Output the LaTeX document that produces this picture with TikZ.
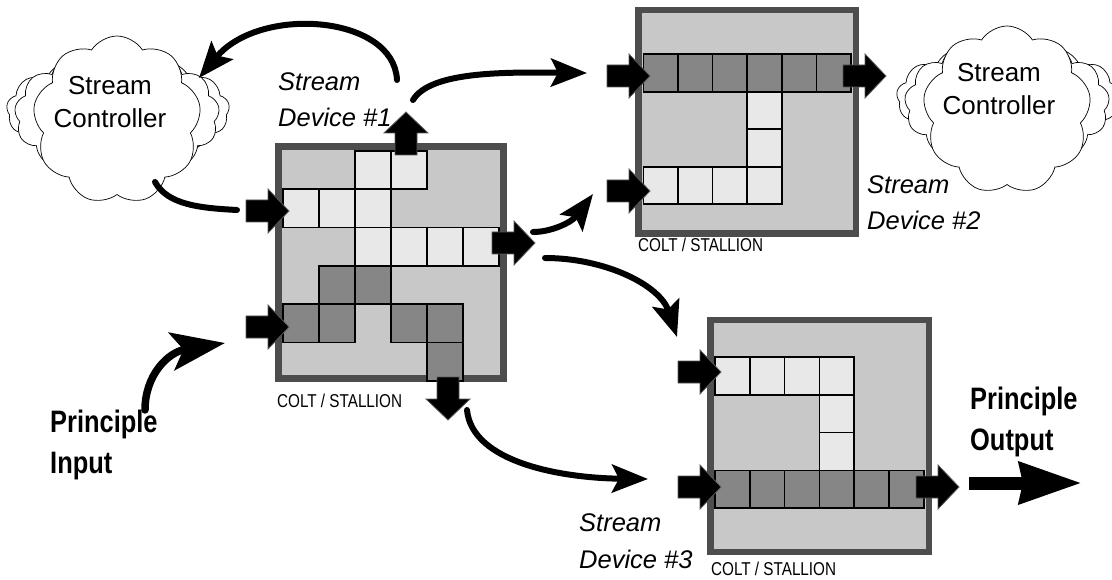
\documentclass[tikz,border=0pt]{standalone}
\usepackage{fontspec}
\setmainfont{Liberation Sans}
\newfontfamily\narrowfont[FakeStretch=0.82]{Liberation Sans}
\usetikzlibrary{shapes.symbols,arrows.meta}
\definecolor{framegray}{HTML}{4D4D4D}
\definecolor{innergray}{HTML}{C8C8C8}
\definecolor{litecell}{HTML}{E8E8E8}
\definecolor{darkcell}{HTML}{868686}
\definecolor{arrowedge}{HTML}{5A5A5A}
\begin{document}
\begin{tikzpicture}[x=1pt,y=-1pt,
  blockframe/.style={draw=framegray, fill=innergray, inner sep=0pt, outer sep=0pt, anchor=north west},
  cellbox/.style={draw=black, line width=1.6pt, inner sep=0pt, outer sep=0pt, anchor=north west},
  cloudback/.style={cloud, cloud puffs=13, cloud puff arc=120, cloud ignores aspect, draw=black, line width=0.7pt, fill=white, inner sep=0pt},
  cloudfront/.style={cloud, cloud puffs=9, cloud puff arc=115, cloud ignores aspect, draw=black, line width=0.7pt, fill=white, inner sep=0pt},
  cloudtext/.style={font=\fontsize{26}{33.5}\selectfont, align=center, inner sep=0pt, anchor=base},
  devlabel/.style={font=\fontsize{25.5}{36.7}\selectfont\itshape, align=left, inner sep=0pt, anchor=base west},
  mainlabel/.style={font=\fontsize{31}{41}\selectfont\narrowfont\bfseries, align=left, inner sep=0pt, anchor=base west},
  colt/.style={font=\fontsize{18.6}{20}\selectfont\narrowfont, inner sep=0pt, anchor=base west},
  conn/.style={line width=6pt, line cap=round, -{Stealth[length=36pt, width=28pt, inset=7pt]}},
  fatarrow/.pic={\path[fill=black, draw=arrowedge, line width=0.8pt, line join=miter]
     (0,0) -- (-21,-22) -- (-21,-11) -- (-43,-11) -- (-43,11) -- (-21,11) -- (-21,22) -- cycle;}
]
\useasboundingbox[fill=white] (0,0) rectangle (1112,580);

% ---------------- left cloud
\node[cloudback, minimum width=223pt, minimum height=108pt] (lcb1) at (118,110) {};
\node[cloudback, minimum width=205pt, minimum height=132pt] (lcb2) at (117,115) {};
\node[cloudfront, minimum width=168pt, minimum height=168pt] (lc) at (117,120) {};
\node[cloudtext] (lct) at (110,128) {Stream\\Controller};

% ---------------- right cloud
\node[cloudback, minimum width=223pt, minimum height=108pt] (rcb1) at (1008,97) {};
\node[cloudback, minimum width=205pt, minimum height=132pt] (rcb2) at (1007,104) {};
\node[cloudfront, minimum width=168pt, minimum height=168pt] (rc) at (1007,110) {};
\node[cloudtext] (rct) at (999,115) {Stream\\Controller};

% ---------------- block 1 (centre)
\node[blockframe, line width=7pt, minimum width=225pt, minimum height=232pt] (blk1) at (278.5,146.5) {};
\foreach \c/\r in {2/0,3/0,0/1,1/1,2/1,2/2,3/2,4/2,5/2}
  \node[cellbox, fill=litecell, minimum width=36pt, minimum height=38.3pt] (b1l-\c-\r) at ({283+\c*36},{151+\r*38.3}) {};
\foreach \c/\r in {1/3,2/3,0/4,1/4,3/4,4/4,4/5}
  \node[cellbox, fill=darkcell, minimum width=36pt, minimum height=38.3pt] (b1d-\c-\r) at ({283+\c*36},{151+\r*38.3}) {};
\pic (a1in1) at (289,211) {fatarrow};
\pic (a1in2) at (289,327) {fatarrow};
\pic (a1out) at (535,243) {fatarrow};
\pic[rotate=90] (a1up) at (406,112) {fatarrow};
\pic[rotate=-90] (a1dn) at (448,420) {fatarrow};
\node[colt] (colt1) at (277,407) {COLT / STALLION};

% ---------------- block 2 (top right)
\node[blockframe, line width=6.5pt, minimum width=217.5pt, minimum height=223.5pt] (blk2) at (638.25,10.25) {};
\foreach \c in {0,...,5}
  \node[cellbox, fill=darkcell, minimum width=34.6pt, minimum height=37.5pt] (b2d-\c) at ({643.3+\c*34.6},54.3) {};
\foreach \c/\r in {3/1,3/2,0/3,1/3,2/3,3/3}
  \node[cellbox, fill=litecell, minimum width=34.6pt, minimum height=37.5pt] (b2l-\c-\r) at ({643.3+\c*34.6},{54.3+\r*37.5}) {};
\pic (a2in1) at (650,76) {fatarrow};
\pic (a2in2) at (650,191) {fatarrow};
\pic (a2out) at (886,76) {fatarrow};
\node[colt] (colt2) at (638,252) {COLT / STALLION};

% ---------------- block 3 (bottom right)
\node[blockframe, line width=6.5pt, minimum width=218.5pt, minimum height=231.5pt] (blk3) at (710.25,320.25) {};
\foreach \c/\r in {0/0,1/0,2/0,3/0,3/1,3/2}
  \node[cellbox, fill=litecell, minimum width=34.8pt, minimum height=37.8pt] (b3l-\c-\r) at ({715+\c*34.8},{357+\r*37.8}) {};
\foreach \c in {0,...,5}
  \node[cellbox, fill=darkcell, minimum width=34.8pt, minimum height=37.8pt] (b3d-\c) at ({715+\c*34.8},470.4) {};
\pic (a3in1) at (721,372) {fatarrow};
\pic (a3in2) at (721,487) {fatarrow};
\pic (a3out) at (959,487) {fatarrow};
\node[colt] (colt3) at (711,575) {COLT / STALLION};

% ---------------- labels (anchor = baseline of last line)
\node[devlabel] (sd1) at (278,127) {Stream\\Device \#1};
\node[devlabel] (sd2) at (867,230) {Stream\\Device \#2};
\node[devlabel] (sd3) at (579,568) {Stream\\Device \#3};
\node[mainlabel] (pin) at (50,473) {Principle\\Input};
\node[mainlabel] (pout) at (970,450) {Principle\\Output};

% ---------------- connector end points
\coordinate (c1s) at (397,80);   \coordinate (c1e) at (199,78);
\coordinate (c2s) at (413,100);  \coordinate (c2e) at (587,73);
\coordinate (c3s) at (533,232);  \coordinate (c3e) at (593,194);
\coordinate (c4s) at (545,258);  \coordinate (c4e) at (677,337);
\coordinate (c5s) at (467,410);  \coordinate (c5e) at (648,479);
\coordinate (c6s) at (155,182);  \coordinate (c6e) at (237,210);
\coordinate (c7s) at (145,410);  \coordinate (c7e) at (225,343);
\coordinate (c8s) at (969,483);  \coordinate (c8e) at (1082,483);

\draw[conn] (c1s) .. controls (394,15) and (260,5) .. (c1e);
\draw[conn] (c2s) .. controls (430,72) and (500,72) .. (c2e);
\draw[conn] (c3s) .. controls (552,232) and (572,222) .. (c3e);
\draw[conn] (c4s) .. controls (605,258) and (660,285) .. (c4e);
\draw[conn] (c5s) .. controls (472,462) and (560,478) .. (c5e);
\draw[line width=6pt, line cap=round] (c6s) .. controls (168,205) and (200,208) .. (c6e);
\draw[line width=7.5pt, line cap=round, -{Stealth[length=54pt, width=38pt, inset=12pt]}] (c7s) .. controls (145,375) and (168,352) .. (c7e);
\draw[line width=13pt, -{Stealth[length=62pt, width=40pt, inset=3pt]}] (c8s) -- (c8e);
\end{tikzpicture}
\end{document}
